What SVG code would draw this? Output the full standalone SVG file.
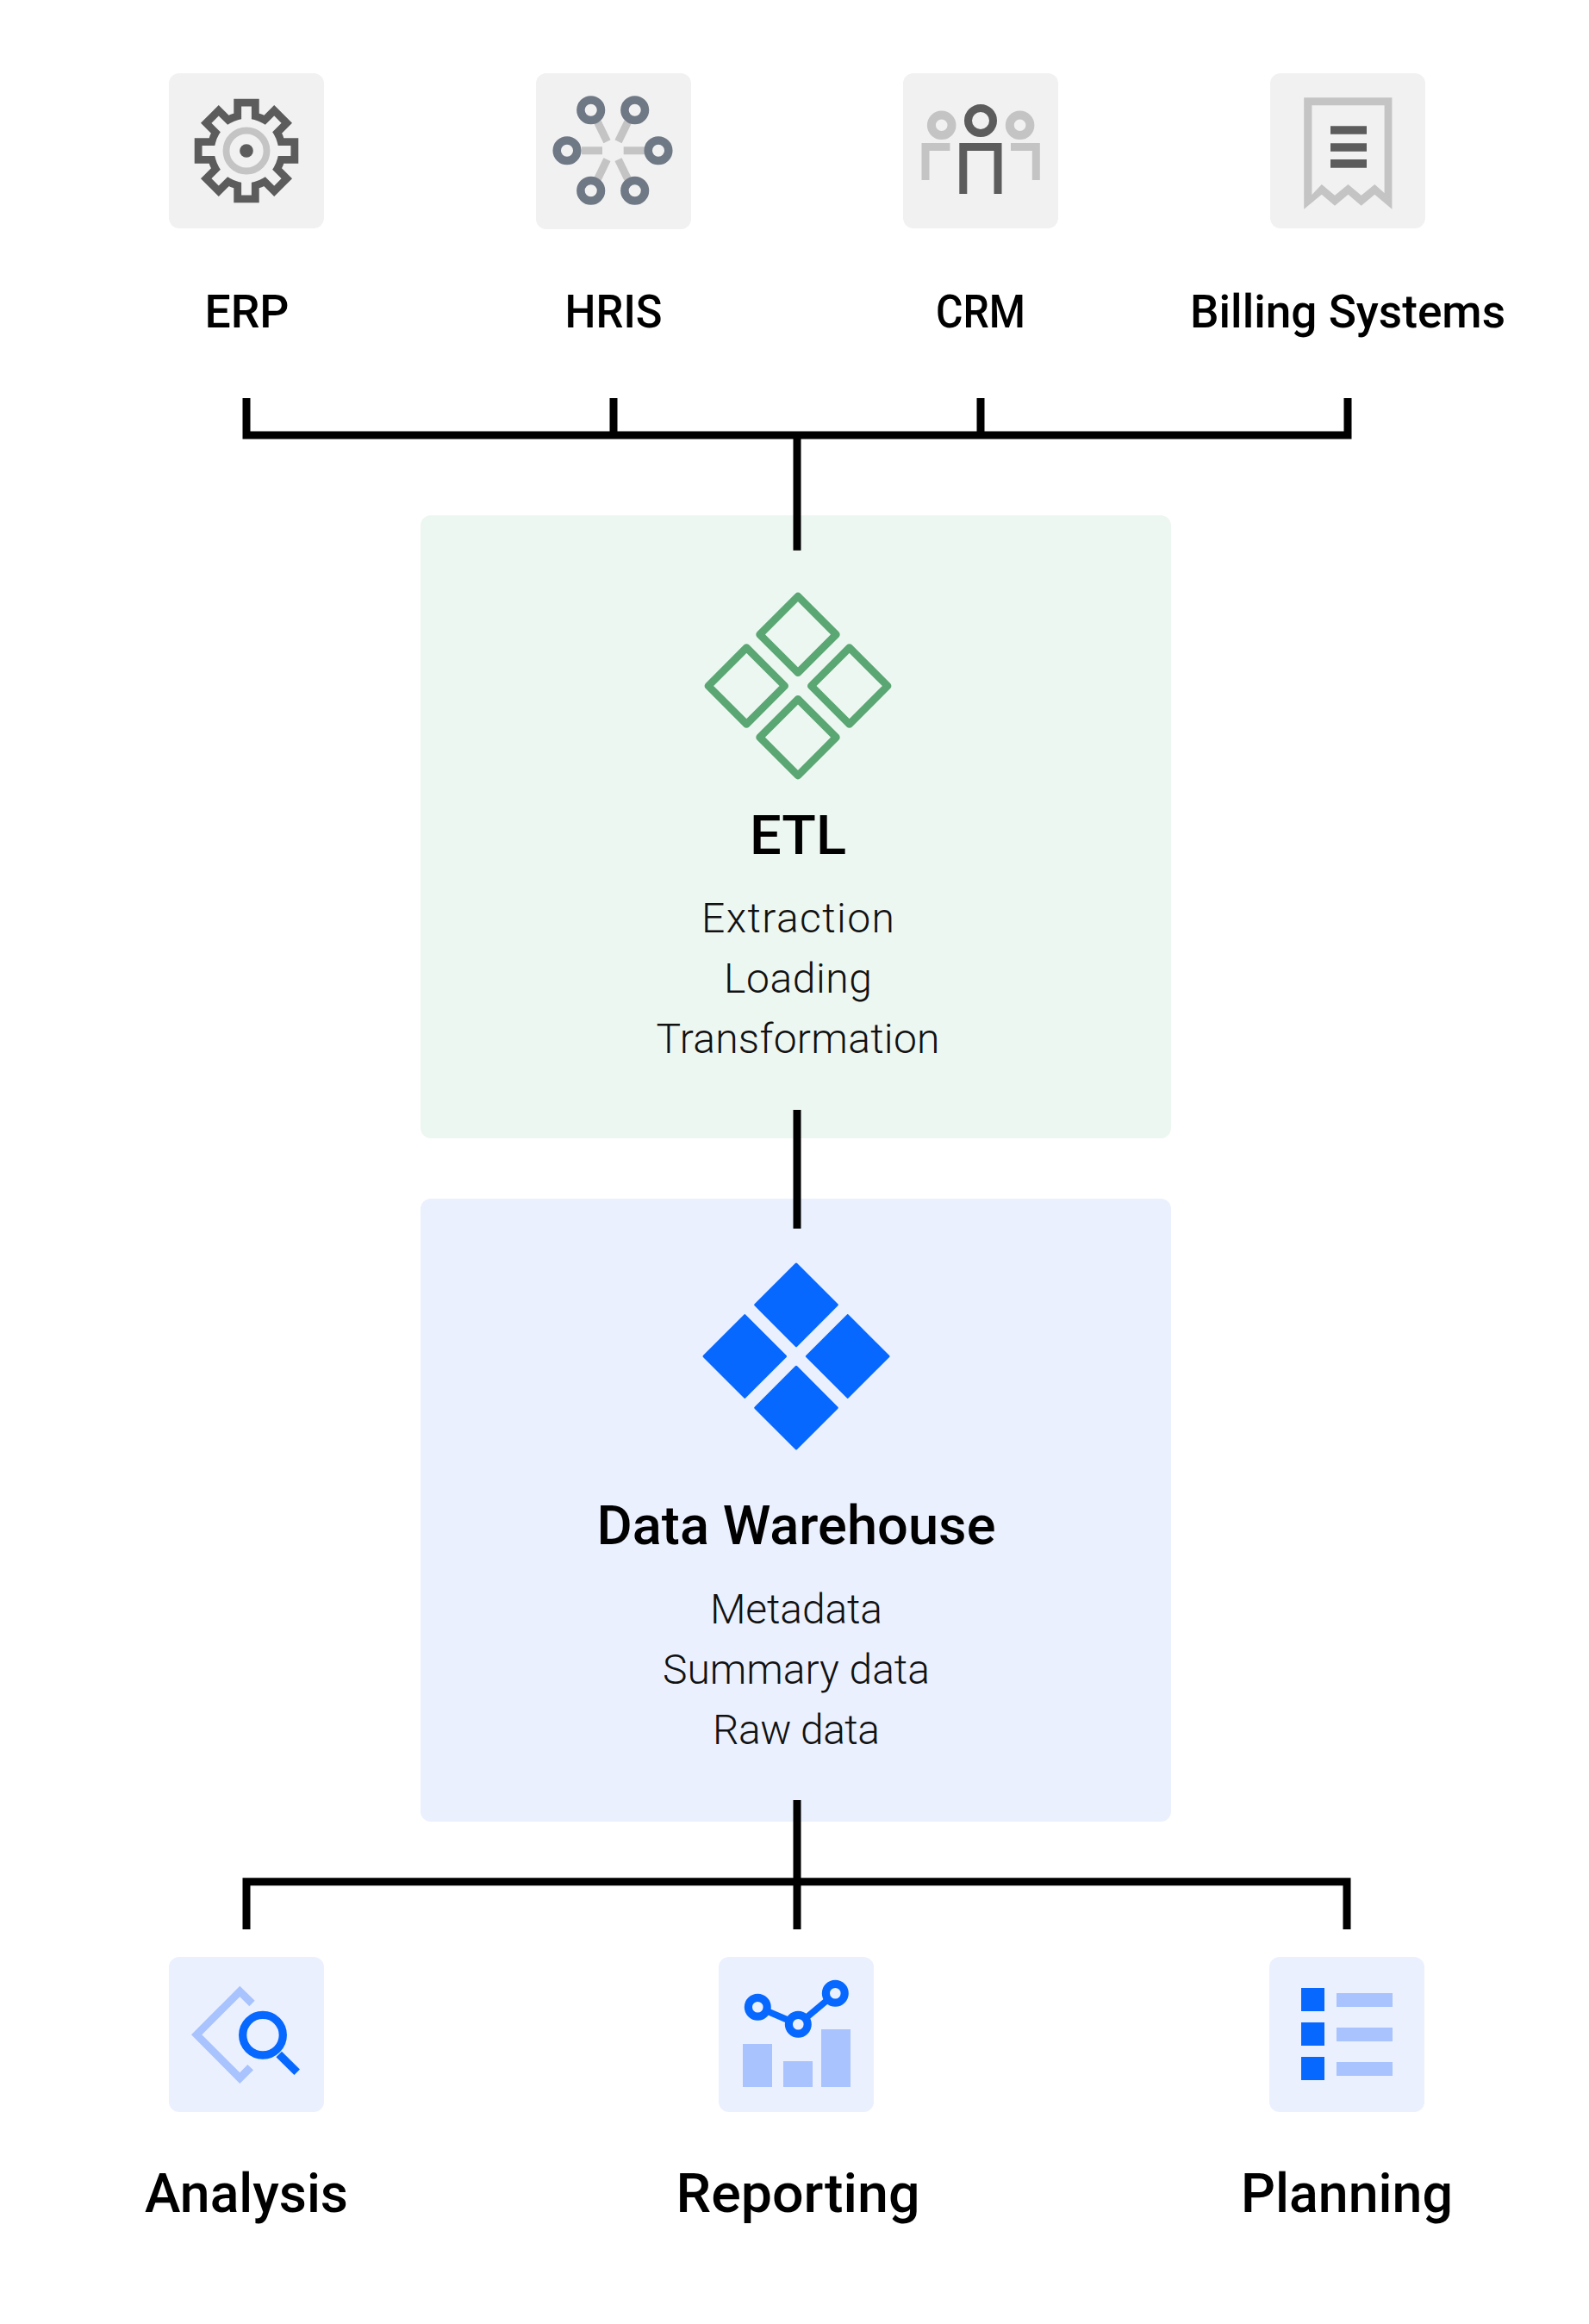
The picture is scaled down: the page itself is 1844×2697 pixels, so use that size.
<svg xmlns="http://www.w3.org/2000/svg" width="1844" height="2697" viewBox="0 0 1844 2697">
<style>
text{font-family:"Roboto","Liberation Sans",sans-serif;text-anchor:middle;fill:#000}
.label{font-size:54px;font-weight:500}
.big{font-size:63px;font-weight:500}
.sub{font-size:48px;font-weight:300;fill:#111}
.conn{fill:none;stroke:#000;stroke-width:9}
.tg{fill:#f1f1f1}.tb{fill:#eaf0fe}
.dk{stroke:#5c5c5c;fill:none}.lt{stroke:#c4c4c4;fill:none}
.blue{fill:#0768ff}.pale{fill:#a8c3fd}
</style>
<rect width="1844" height="2697" fill="#fff"/>
<g id="etl">
<rect x="488" y="598" width="871" height="723" rx="12" fill="#edf7f1"/>
<g fill="none" stroke="#5aa773" stroke-width="8.800" stroke-linejoin="round">
<path d="M926 692 970.300 736.300 926 780.600 881.700 736.300Z"/>
<path d="M926 811.400 970.300 855.700 926 900 881.700 855.700Z"/>
<path d="M866.300 751.700 910.600 796 866.300 840.300 822 796Z"/>
<path d="M985.700 751.700 1030 796 985.700 840.300 941.400 796Z"/>
</g>
<text class="big" x="926" y="991" textLength="112" lengthAdjust="spacingAndGlyphs">ETL</text>
<text class="sub" x="926" y="1082" textLength="224">Extraction</text>
<text class="sub" x="926" y="1152" textLength="172">Loading</text>
<text class="sub" x="926" y="1222" textLength="329">Transformation</text>
</g>
<g id="warehouse">
<rect x="488" y="1391" width="871" height="723" rx="12" fill="#eaf0fe"/>
<g class="blue" stroke="#0768ff" stroke-width="3" stroke-linejoin="round">
<path d="M924 1467 971.300 1514.300 924 1561.600 876.700 1514.300Z"/>
<path d="M924 1586.400 971.300 1633.700 924 1681 876.700 1633.700Z"/>
<path d="M864.300 1526.700 911.600 1574 864.300 1621.300 817 1574Z"/>
<path d="M983.700 1526.700 1031 1574 983.700 1621.300 936.400 1574Z"/>
</g>
<text class="big" x="924" y="1792" textLength="463" lengthAdjust="spacingAndGlyphs">Data Warehouse</text>
<text class="sub" x="924" y="1884" textLength="200">Metadata</text>
<text class="sub" x="924" y="1954" textLength="310">Summary data</text>
<text class="sub" x="924" y="2024" textLength="194">Raw data</text>
</g>
<g id="erp">
<rect class="tg" x="196" y="85" width="180" height="180" rx="12"/>
<g transform="translate(286 175) scale(.98)">
<path class="dk" stroke-width="9" d="M-10.500 -41V-57H10.500V-41A41.500 41.500 0 0 1 21.570 -36.420L32.880 -47.730 47.730 -32.880 36.420 -21.570A41.500 41.500 0 0 1 41 -10.500H57V10.500H41A41.500 41.500 0 0 1 36.420 21.570L47.730 32.880 32.880 47.730 21.570 36.420A41.500 41.500 0 0 1 10.500 41V57H-10.500V41A41.500 41.500 0 0 1 -21.570 36.420L-32.880 47.730 -47.730 32.880 -36.420 21.570A41.500 41.500 0 0 1 -41 10.500H-57V-10.500H-41A41.500 41.500 0 0 1 -36.420 -21.570L-47.730 -32.880 -32.880 -47.730 -21.570 -36.420A41.500 41.500 0 0 1 -10.500 -41Z"/>
<circle class="lt" r="24" stroke-width="8"/>
<circle r="8" fill="#5c5c5c"/>
</g>
<text class="label" x="286.500" y="380" textLength="98" lengthAdjust="spacingAndGlyphs">ERP</text>
</g>
<g id="hris">
<rect class="tg" x="622" y="85" width="180" height="181" rx="12"/>
<g class="lt" stroke-width="9">
<path d="M675 174.700H699M723.700 174.700H748M693.500 141.700 704.500 164.300M728.500 141.700 717.500 164.300M693.500 207.700 704.500 185.100M728.500 207.700 717.500 185.100"/>
</g>
<g fill="none" stroke="#6f7885" stroke-width="9.500">
<circle cx="685.700" cy="127.700" r="11.800"/><circle cx="736.700" cy="127.700" r="11.800"/>
<circle cx="658" cy="174.700" r="11.800"/><circle cx="764" cy="174.700" r="11.800"/>
<circle cx="685.700" cy="221.300" r="11.800"/><circle cx="736.700" cy="221.300" r="11.800"/>
</g>
<text class="label" x="712" y="380" textLength="113" lengthAdjust="spacingAndGlyphs">HRIS</text>
</g>
<g id="crm">
<rect class="tg" x="1048" y="85" width="180" height="180" rx="12"/>
<circle class="dk" cx="1138" cy="140" r="14.500" stroke-width="9"/>
<circle class="lt" cx="1092.700" cy="145.300" r="11.800" stroke-width="10"/>
<circle class="lt" cx="1183.600" cy="145.300" r="11.800" stroke-width="10"/>
<path class="dk" stroke-width="9" d="M1117.800 225V170.500H1158V225"/>
<path class="lt" stroke-width="9" d="M1074 209V170.500H1102.400M1173 170.500H1202.300V209"/>
<text class="label" x="1138" y="380" textLength="104" lengthAdjust="spacingAndGlyphs">CRM</text>
</g>
<g id="billing">
<rect class="tg" x="1474" y="85" width="180" height="180" rx="12"/>
<path fill="#c4c4c4" fill-rule="evenodd" d="M1513.200 113.300H1615.400V242.700L1595.300 225.700 1579.700 238.700 1564.500 225.700 1549 238.700 1533.800 225.700 1513.200 242.700ZM1522.400 122.300V226L1533.800 214 1549 226.700 1564.500 214 1579.700 226.700 1595.300 214 1606.600 224V122.300Z"/>
<path fill="#5c5c5c" d="M1544 146.300H1586V155.700H1544ZM1544 166.300H1586V175.700H1544ZM1544 185H1586V194.700H1544Z"/>
<text class="label" x="1564" y="380" textLength="366" lengthAdjust="spacingAndGlyphs">Billing Systems</text>
</g>
<g id="analysis">
<rect class="tb" x="196" y="2271" width="180" height="180" rx="12"/>
<path class="pale" d="M222 2361.300 278.300 2304.700 295.700 2321.700 289.300 2328.300 278.300 2317.300 234.300 2361.300 278.300 2405.300 287.300 2396 294 2402.300 278.300 2418Z"/>
<g fill="none" stroke="#0768ff" stroke-width="9.300"><circle cx="305" cy="2361.700" r="23.300"/><path d="M323.700 2384 344.700 2404.700"/></g>
<text class="big" x="286" y="2567" textLength="236" lengthAdjust="spacingAndGlyphs">Analysis</text>
</g>
<g id="reporting">
<rect class="tb" x="834" y="2271" width="180" height="180" rx="12"/>
<path class="pale" d="M862 2372H896V2422H862ZM909 2392H943V2422H909ZM953 2355H987V2422H953Z"/>
<g fill="none" stroke="#0768ff"><path stroke-width="7.500" d="M879.300 2329.300 926.300 2349.300 969.300 2313.300"/>
<g stroke-width="9.200" fill="#eaf0fe"><circle cx="879.300" cy="2329.300" r="10.900"/><circle cx="926.300" cy="2349.300" r="10.900"/><circle cx="969.300" cy="2313.300" r="10.900"/></g></g>
<text class="big" x="926" y="2567" textLength="283" lengthAdjust="spacingAndGlyphs">Reporting</text>
</g>
<g id="planning">
<rect class="tb" x="1473" y="2271" width="180" height="180" rx="12"/>
<path class="blue" d="M1510 2307H1537V2334H1510ZM1510 2347H1537V2374H1510ZM1510 2387H1537V2414H1510Z"/>
<path class="pale" d="M1551 2313H1616V2329H1551ZM1551 2353H1616V2369H1551ZM1551 2393H1616V2409H1551Z"/>
<text class="big" x="1563" y="2567" textLength="246" lengthAdjust="spacingAndGlyphs">Planning</text>
</g>
<g id="connectors">
<path class="conn" d="M286 462V505H1564V462M712 462V505M1138 462V505M925 505V638.700"/>
<path class="conn" d="M925 1288V1425.700"/>
<path class="conn" d="M925 2089V2239M286 2239V2183.800H1563V2239"/>
</g>
</svg>
